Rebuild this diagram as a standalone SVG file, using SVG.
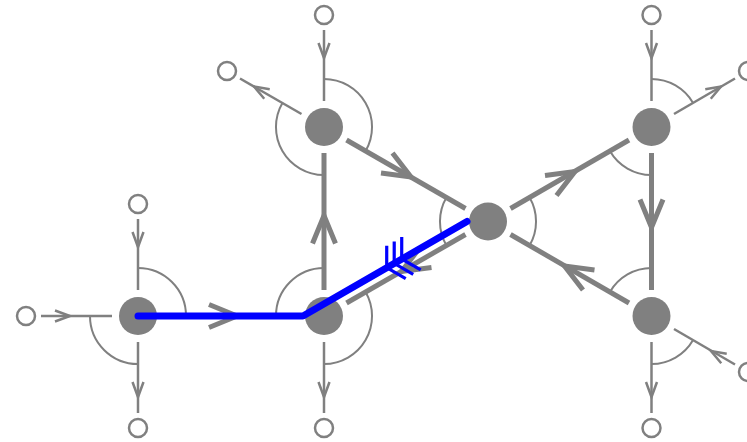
<svg xmlns="http://www.w3.org/2000/svg" xmlns:xlink="http://www.w3.org/1999/xlink" width="747" height="442" viewBox="0 0 747 442">
<style>
.thin{stroke:#808080;stroke-width:2.5;fill:none}
.thick{stroke:#808080;stroke-width:5;fill:none}
.arc{stroke:#808080;stroke-width:2;fill:none}
.node{fill:#808080}
.port{fill:#fff;stroke:#808080;stroke-width:2.5}
.blue{stroke:#0000ff;stroke-width:7;fill:none;stroke-linecap:round;stroke-linejoin:round}
.bluetick{stroke:#0000ff;stroke-width:3.2;fill:none}
</style>
<defs>
<path id="ahThin" class="thin" d="M-15,-5.5 L0,0 L-15,5.5"/>
<path id="ahThick" class="thick" d="M-28,-11.5 L0,0 L-28,11.5"/>
<path id="ahBlue" class="bluetick" d="M-11,-19 L0,0 L-11,19"/>
</defs>
<rect width="747" height="442" fill="#fff"/>
<g id="nodeA">
<circle class="node" cx="138" cy="316" r="19"/>
<path class="arc" d="M138,268 A48,48 0 0 1 186,316"/>
<path class="arc" d="M90,316 A48,48 0 0 0 138,364"/>
</g>
<g id="nodeB">
<circle class="node" cx="324" cy="316" r="19"/>
<path class="arc" d="M276,316 A48,48 0 0 1 324,268"/>
<path class="arc" d="M365.6,292 A48,48 0 0 1 324,364"/>
</g>
<g id="nodeC">
<circle class="node" cx="324" cy="127" r="19"/>
<path class="arc" d="M324,79 A48,48 0 0 1 365.6,151"/>
<path class="arc" d="M282.4,103 A48,48 0 0 0 324,175"/>
</g>
<g id="nodeD">
<circle class="node" cx="488" cy="221.5" r="19"/>
<path class="arc" d="M446.4,197.5 A48,48 0 0 0 446.4,245.5"/>
<path class="arc" d="M529.6,197.5 A48,48 0 0 1 529.6,245.5"/>
</g>
<g id="nodeE">
<circle class="node" cx="651.5" cy="127" r="19"/>
<path class="arc" d="M651.5,79 A48,48 0 0 1 693.1,103"/>
<path class="arc" d="M609.9,151 A48,48 0 0 0 651.5,175"/>
</g>
<g id="nodeF">
<circle class="node" cx="651.5" cy="316" r="19"/>
<path class="arc" d="M651.5,268 A48,48 0 0 0 609.9,292"/>
<path class="arc" d="M651.5,364 A48,48 0 0 0 693.1,340"/>
</g>
<g id="portA1"><circle class="port" cx="138" cy="204" r="9"/></g>
<g id="portA2"><circle class="port" cx="26" cy="316" r="9"/></g>
<g id="portA3"><circle class="port" cx="138" cy="428" r="9"/></g>
<g id="portC1"><circle class="port" cx="324" cy="15" r="9"/></g>
<g id="portC2"><circle class="port" cx="227" cy="71" r="9"/></g>
<g id="portB1"><circle class="port" cx="324" cy="428" r="9"/></g>
<g id="portE1"><circle class="port" cx="651.5" cy="15" r="9"/></g>
<g id="portE2"><circle class="port" cx="748" cy="71" r="9"/></g>
<g id="portF1"><circle class="port" cx="748" cy="372" r="9"/></g>
<g id="portF2"><circle class="port" cx="651.5" cy="428" r="9"/></g>
<g id="connectors">
<line class="thin" x1="138" y1="219" x2="138" y2="290"/><use xlink:href="#ahThin" transform="translate(138,247) rotate(90)"/>
<line class="thin" x1="41" y1="316" x2="112" y2="316"/><use xlink:href="#ahThin" transform="translate(70,316)"/>
<line class="thin" x1="138" y1="342" x2="138" y2="413"/><use xlink:href="#ahThin" transform="translate(138,397) rotate(90)"/>
<line class="thin" x1="324" y1="30" x2="324" y2="101"/><use xlink:href="#ahThin" transform="translate(324,58) rotate(90)"/>
<line class="thin" x1="301.5" y1="114" x2="240" y2="78.5"/><use xlink:href="#ahThin" transform="translate(254,86.5) rotate(210)"/>
<line class="thin" x1="324" y1="342" x2="324" y2="413"/><use xlink:href="#ahThin" transform="translate(324,397) rotate(90)"/>
<line class="thin" x1="651.5" y1="30" x2="651.5" y2="101"/><use xlink:href="#ahThin" transform="translate(651.5,58) rotate(90)"/>
<line class="thin" x1="674" y1="114" x2="735" y2="78.5"/><use xlink:href="#ahThin" transform="translate(721,86.5) rotate(-30)"/>
<line class="thin" x1="735" y1="364.5" x2="674" y2="329"/><use xlink:href="#ahThin" transform="translate(711,351) rotate(210)"/>
<line class="thin" x1="651.5" y1="342" x2="651.5" y2="413"/><use xlink:href="#ahThin" transform="translate(651.5,397) rotate(90)"/>
<line class="thick" x1="164" y1="316" x2="298" y2="316"/><use xlink:href="#ahThick" transform="translate(237,316)"/>
<line class="thick" x1="324" y1="290" x2="324" y2="153"/><use xlink:href="#ahThick" transform="translate(324,215.5) rotate(-90)"/>
<line class="thick" x1="346.5" y1="140" x2="465.5" y2="208.5"/><use xlink:href="#ahThick" transform="translate(411,177) rotate(30)"/>
<line class="thick" x1="510.5" y1="208.5" x2="629" y2="140"/><use xlink:href="#ahThick" transform="translate(575,171.5) rotate(-30)"/>
<line class="thick" x1="651.5" y1="153" x2="651.5" y2="290"/><use xlink:href="#ahThick" transform="translate(651.5,227.5) rotate(90)"/>
<line class="thick" x1="629" y1="303" x2="510.5" y2="234.5"/><use xlink:href="#ahThick" transform="translate(564.5,266) rotate(210)"/>
<line class="thick" x1="465.5" y1="234.5" x2="346.5" y2="303"/><use xlink:href="#ahThick" transform="translate(401.5,271.5) rotate(150)"/>
<path class="blue" d="M138,316 L303,316 L467,221.5"/>
<use xlink:href="#ahBlue" transform="translate(386.7,267.7) rotate(150)"/>
<use xlink:href="#ahBlue" transform="translate(394.2,263.4) rotate(150)"/>
<use xlink:href="#ahBlue" transform="translate(401.7,259) rotate(150)"/>
</g>
</svg>
